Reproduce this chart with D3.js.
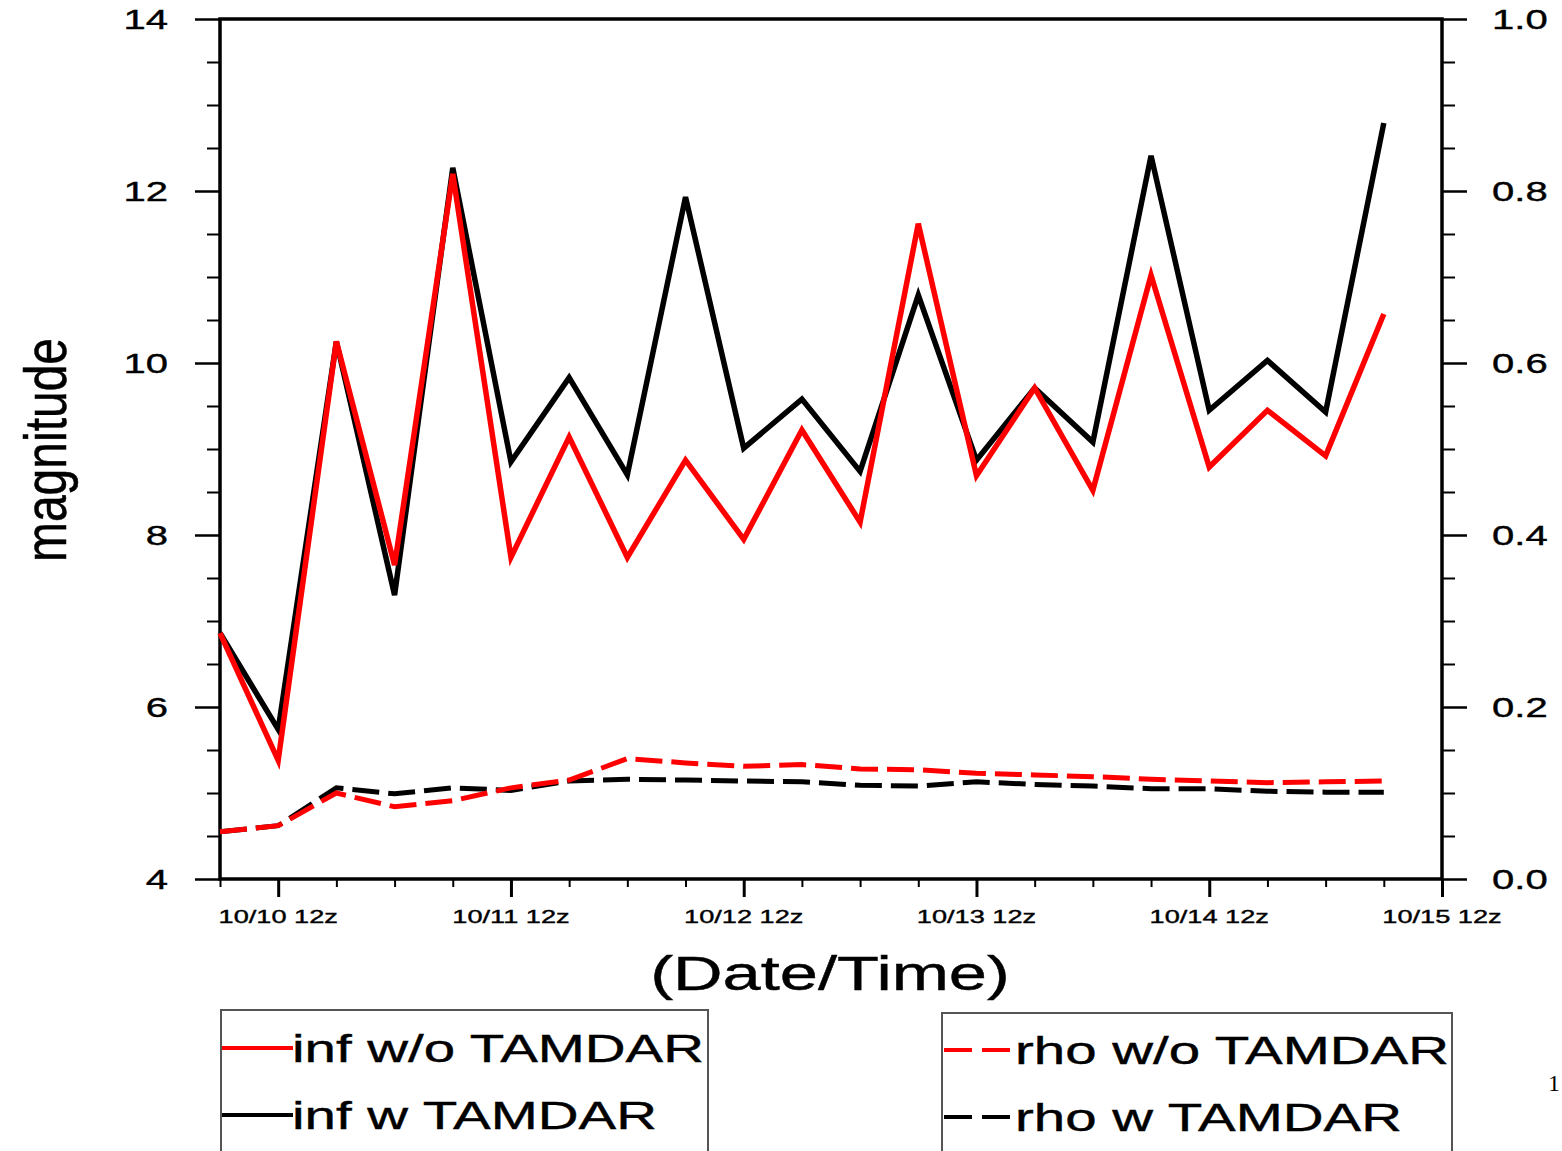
<!DOCTYPE html>
<html>
<head>
<meta charset="utf-8">
<script src="https://cdn.jsdelivr.net/npm/d3@7"></script>
<style>
  html, body { margin: 0; padding: 0; background: #fff; }
  svg { display: block; }
  text { font-family: "Liberation Sans", Arial, Helvetica, sans-serif; fill: #000; }
</style>
</head>
<body>
<svg id="chart" width="1562" height="1151"></svg>
<script>
// ---- data ----
const times = ["10/10 06z","10/10 12z","10/10 18z","10/11 00z","10/11 06z","10/11 12z","10/11 18z",
  "10/12 00z","10/12 06z","10/12 12z","10/12 18z","10/13 00z","10/13 06z","10/13 12z","10/13 18z",
  "10/14 00z","10/14 06z","10/14 12z","10/14 18z","10/15 00z","10/15 06z"];
const infWo = [6.86,5.38,10.25,7.65,12.2,7.74,9.14,7.74,8.87,7.95,9.22,8.15,11.62,8.69,9.71,8.52,11.02,8.79,9.45,8.92,10.57];
const infW  = [6.86,5.74,10.25,7.3,12.27,8.85,9.83,8.7,11.93,9.01,9.58,8.74,10.79,8.87,9.71,9.08,12.41,9.45,10.03,9.43,12.79];
const rhoWo = [0.055,0.062,0.100,0.084,0.091,0.106,0.115,0.140,0.135,0.131,0.133,0.128,0.127,0.123,0.121,0.119,0.116,0.114,0.112,0.113,0.114];
const rhoW  = [0.055,0.062,0.106,0.099,0.106,0.103,0.114,0.116,0.115,0.114,0.113,0.109,0.108,0.113,0.110,0.108,0.105,0.105,0.102,0.101,0.101];
const xTickLabels = ["10/10 12z","10/11 12z","10/12 12z","10/13 12z","10/14 12z","10/15 12z"];
const xDomainLabels = ["10/10 06z","10/15 12z"];
const leftTicks = [4,6,8,10,12,14];
const rightTicks = [0.0,0.2,0.4,0.6,0.8,1.0];
const legendLeft = ["inf w/o TAMDAR","inf w TAMDAR"];
const legendRight = ["rho w/o TAMDAR","rho w TAMDAR"];

// ---- layout ----
const SX = 1.43; // horizontal text stretch
const L = 220, R = 1442, T = 19, B = 879;
const svg = d3.select("#chart");
const parse = d3.utcParse("%m/%d %Hz");

const x = d3.scaleUtc().domain(xDomainLabels.map(parse)).range([L, R]);
const yL = d3.scaleLinear().domain([4, 14]).range([B, T]);
const yR = d3.scaleLinear().domain([0, 1]).range([B, T]);

function txt(g, px, py, s, size, anchor, sx) {
  return g.append("text")
    .attr("transform", `translate(${px},${py}) scale(${sx || SX},1)`)
    .attr("text-anchor", anchor)
    .style("font-size", size + "px")
    .style("stroke", "#000").style("stroke-width", 0.4)
    .text(s);
}

// ---- axes (ticks) ----
function styleAxis(g, w) {
  g.select(".domain").remove();
  g.selectAll(".tick line").attr("stroke", "#000").attr("stroke-width", w);
}
const leftMinor = d3.range(4, 14.01, 0.5).filter(v => !leftTicks.includes(v));
const rightMinor = d3.range(0, 1.001, 0.05).map(v => +v.toFixed(2)).filter(v => !rightTicks.some(t => Math.abs(t - v) < 1e-6));

svg.append("g").attr("transform", `translate(${L},0)`)
  .call(d3.axisLeft(yL).tickValues(leftTicks).tickSize(25).tickFormat(""))
  .call(g => styleAxis(g, 2.5));
svg.append("g").attr("transform", `translate(${L},0)`)
  .call(d3.axisLeft(yL).tickValues(leftMinor).tickSize(13).tickFormat(""))
  .call(g => styleAxis(g, 2));
svg.append("g").attr("transform", `translate(${R},0)`)
  .call(d3.axisRight(yR).tickValues(rightTicks).tickSize(25).tickFormat(""))
  .call(g => styleAxis(g, 2.5));
svg.append("g").attr("transform", `translate(${R},0)`)
  .call(d3.axisRight(yR).tickValues(rightMinor).tickSize(13).tickFormat(""))
  .call(g => styleAxis(g, 2));

const xMajor = xTickLabels.map(parse);
const xMinor = d3.utcHour.every(6).range(x.domain()[0], new Date(+x.domain()[1] + 1))
  .filter(d => !xMajor.some(m => +m === +d));
svg.append("g").attr("transform", `translate(0,${B})`)
  .call(d3.axisBottom(x).tickValues(xMajor).tickSize(18).tickFormat(""))
  .call(g => styleAxis(g, 3));
svg.append("g").attr("transform", `translate(0,${B})`)
  .call(d3.axisBottom(x).tickValues(xMinor).tickSize(8).tickFormat(""))
  .call(g => styleAxis(g, 2));

// frame
svg.append("rect").attr("x", L).attr("y", T).attr("width", R - L).attr("height", B - T)
  .attr("fill", "none").attr("stroke", "#000").attr("stroke-width", 3.5);

// tick labels
const lab = svg.append("g");
leftTicks.forEach(v => txt(lab, 168, yL(v) + 10, String(v), 28, "end"));
rightTicks.forEach(v => txt(lab, 1492, yR(v) + 10, v.toFixed(1), 28, "start"));
xTickLabels.forEach(s => txt(lab, x(parse(s)), 923, s, 19, "middle"));

// axis titles
txt(svg, 830, 990, "(Date/Time)", 48, "middle");
svg.append("text")
  .attr("transform", `translate(66,450) scale(1.25,1) rotate(-90)`)
  .attr("text-anchor", "middle")
  .style("font-size", "48px")
  .style("stroke", "#000").style("stroke-width", 0.4)
  .text("magnitude");

// ---- lines ----
const pts = times.map(parse);
const lineL = d3.line().x((d, i) => x(pts[i])).y(d => yL(d));
const lineR = d3.line().x((d, i) => x(pts[i])).y(d => yR(d));
const plot = svg.append("g");
const DASH = "27 9";
plot.append("path").datum(rhoW).attr("d", lineR).attr("fill", "none")
  .attr("stroke", "#000").attr("stroke-width", 5).attr("stroke-dasharray", DASH);
plot.append("path").datum(rhoWo).attr("d", lineR).attr("fill", "none")
  .attr("stroke", "#ff0000").attr("stroke-width", 5).attr("stroke-dasharray", DASH);
plot.append("path").datum(infW).attr("d", lineL).attr("fill", "none")
  .attr("stroke", "#000").attr("stroke-width", 5.5).attr("stroke-linejoin", "miter");
plot.append("path").datum(infWo).attr("d", lineL).attr("fill", "none")
  .attr("stroke", "#ff0000").attr("stroke-width", 5.5).attr("stroke-linejoin", "miter");

// ---- legends ----
const lg = svg.append("g");
lg.append("rect").attr("x", 221).attr("y", 1010).attr("width", 487).attr("height", 200)
  .attr("fill", "none").attr("stroke", "#555").attr("stroke-width", 2);
lg.append("rect").attr("x", 942).attr("y", 1013).attr("width", 510).attr("height", 200)
  .attr("fill", "none").attr("stroke", "#555").attr("stroke-width", 2);

const legColors = ["#ff0000", "#000"];
legendLeft.forEach((s, i) => {
  const yy = 1048 + i * 67;
  lg.append("line").attr("x1", 222).attr("x2", 293).attr("y1", yy).attr("y2", yy)
    .attr("stroke", legColors[i]).attr("stroke-width", 4);
  txt(lg, 292, yy + 14, s, 39.5, "start");
});
legendRight.forEach((s, i) => {
  const yy = 1050 + i * 67;
  lg.append("line").attr("x1", 944).attr("x2", 1014).attr("y1", yy).attr("y2", yy)
    .attr("stroke", legColors[i]).attr("stroke-width", 4).attr("stroke-dasharray", "28 10");
  txt(lg, 1015, yy + 14, s, 39.5, "start");
});

// stray glyph at the right edge of the original
svg.append("text").attr("x", 1548).attr("y", 1091)
  .style("font-family", "'Liberation Serif', serif").style("font-size", "24px").text("1");
</script>
</body>
</html>
